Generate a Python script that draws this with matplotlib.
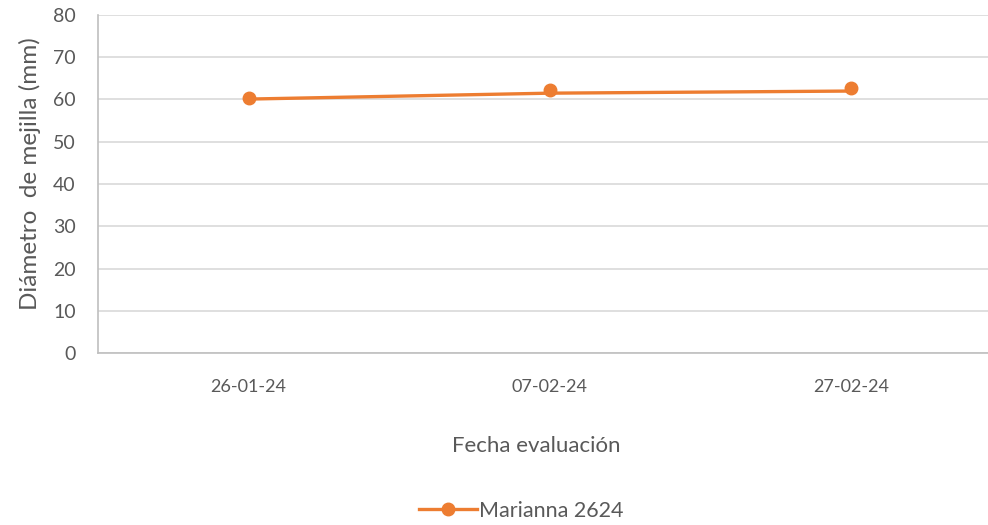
import matplotlib.pyplot as plt
from matplotlib.lines import Line2D

# data
fechas = ['26-01-24', '07-02-24', '27-02-24']
diametro_puntos = [60.3, 62.3, 62.8]   # markers
diametro_linea = [60.1, 61.5, 62.0]    # line drawn under the markers
serie = 'Marianna 2624'
y_ticks = [0, 10, 20, 30, 40, 50, 60, 70, 80]

naranja = '#ED7D31'
gris_txt = '#595959'
gris_grid = '#D9D9D9'

plt.rcParams['font.family'] = ['Lato', 'DejaVu Sans']

fig = plt.figure(figsize=(9.88, 5.25), dpi=100)
W, H = 988, 525
ax = fig.add_axes([98 / W, (H - 353) / H, 904 / W, 338 / H])

x = range(len(fechas))
ax.plot(x, diametro_linea, color=naranja, lw=2.4, solid_capstyle='round', zorder=3)
ax.plot(x, diametro_puntos, ls='none', marker='o', ms=9, color=naranja, zorder=4)

ax.set_xlim(-0.5, 2.5)
ax.set_ylim(0, 80)
ax.set_yticks(y_ticks)
ax.set_xticks(list(x))
ax.set_xticklabels(fechas)
ax.yaxis.grid(True, color=gris_grid, lw=1.2)
ax.set_axisbelow(True)

for s in ['top', 'right']:
    ax.spines[s].set_visible(False)
for s in ['left', 'bottom']:
    ax.spines[s].set_color('#BFBFBF')
    ax.spines[s].set_linewidth(1.2)

ax.tick_params(axis='y', length=0, pad=16, labelsize=14, colors=gris_txt)
ax.tick_params(axis='x', length=0, pad=19, labelsize=13, colors=gris_txt)

fig.text(30 / W, (H - 174) / H, 'Diámetro  de mejilla (mm)', rotation=90,
         ha='center', va='center', fontsize=17.5, color=gris_txt)
fig.text(536 / W, (H - 446) / H, 'Fecha evaluación', ha='center', va='center',
         fontsize=16, color=gris_txt)

handle = Line2D([], [], color=naranja, lw=2.4, marker='o', ms=9)
fig.legend([handle], [serie], loc='center', bbox_to_anchor=(521 / W, (H - 511) / H),
           frameon=False, fontsize=15.5, labelcolor=gris_txt, handlelength=2.7,
           handletextpad=0.1)

fig.savefig('out.png', dpi=100)
